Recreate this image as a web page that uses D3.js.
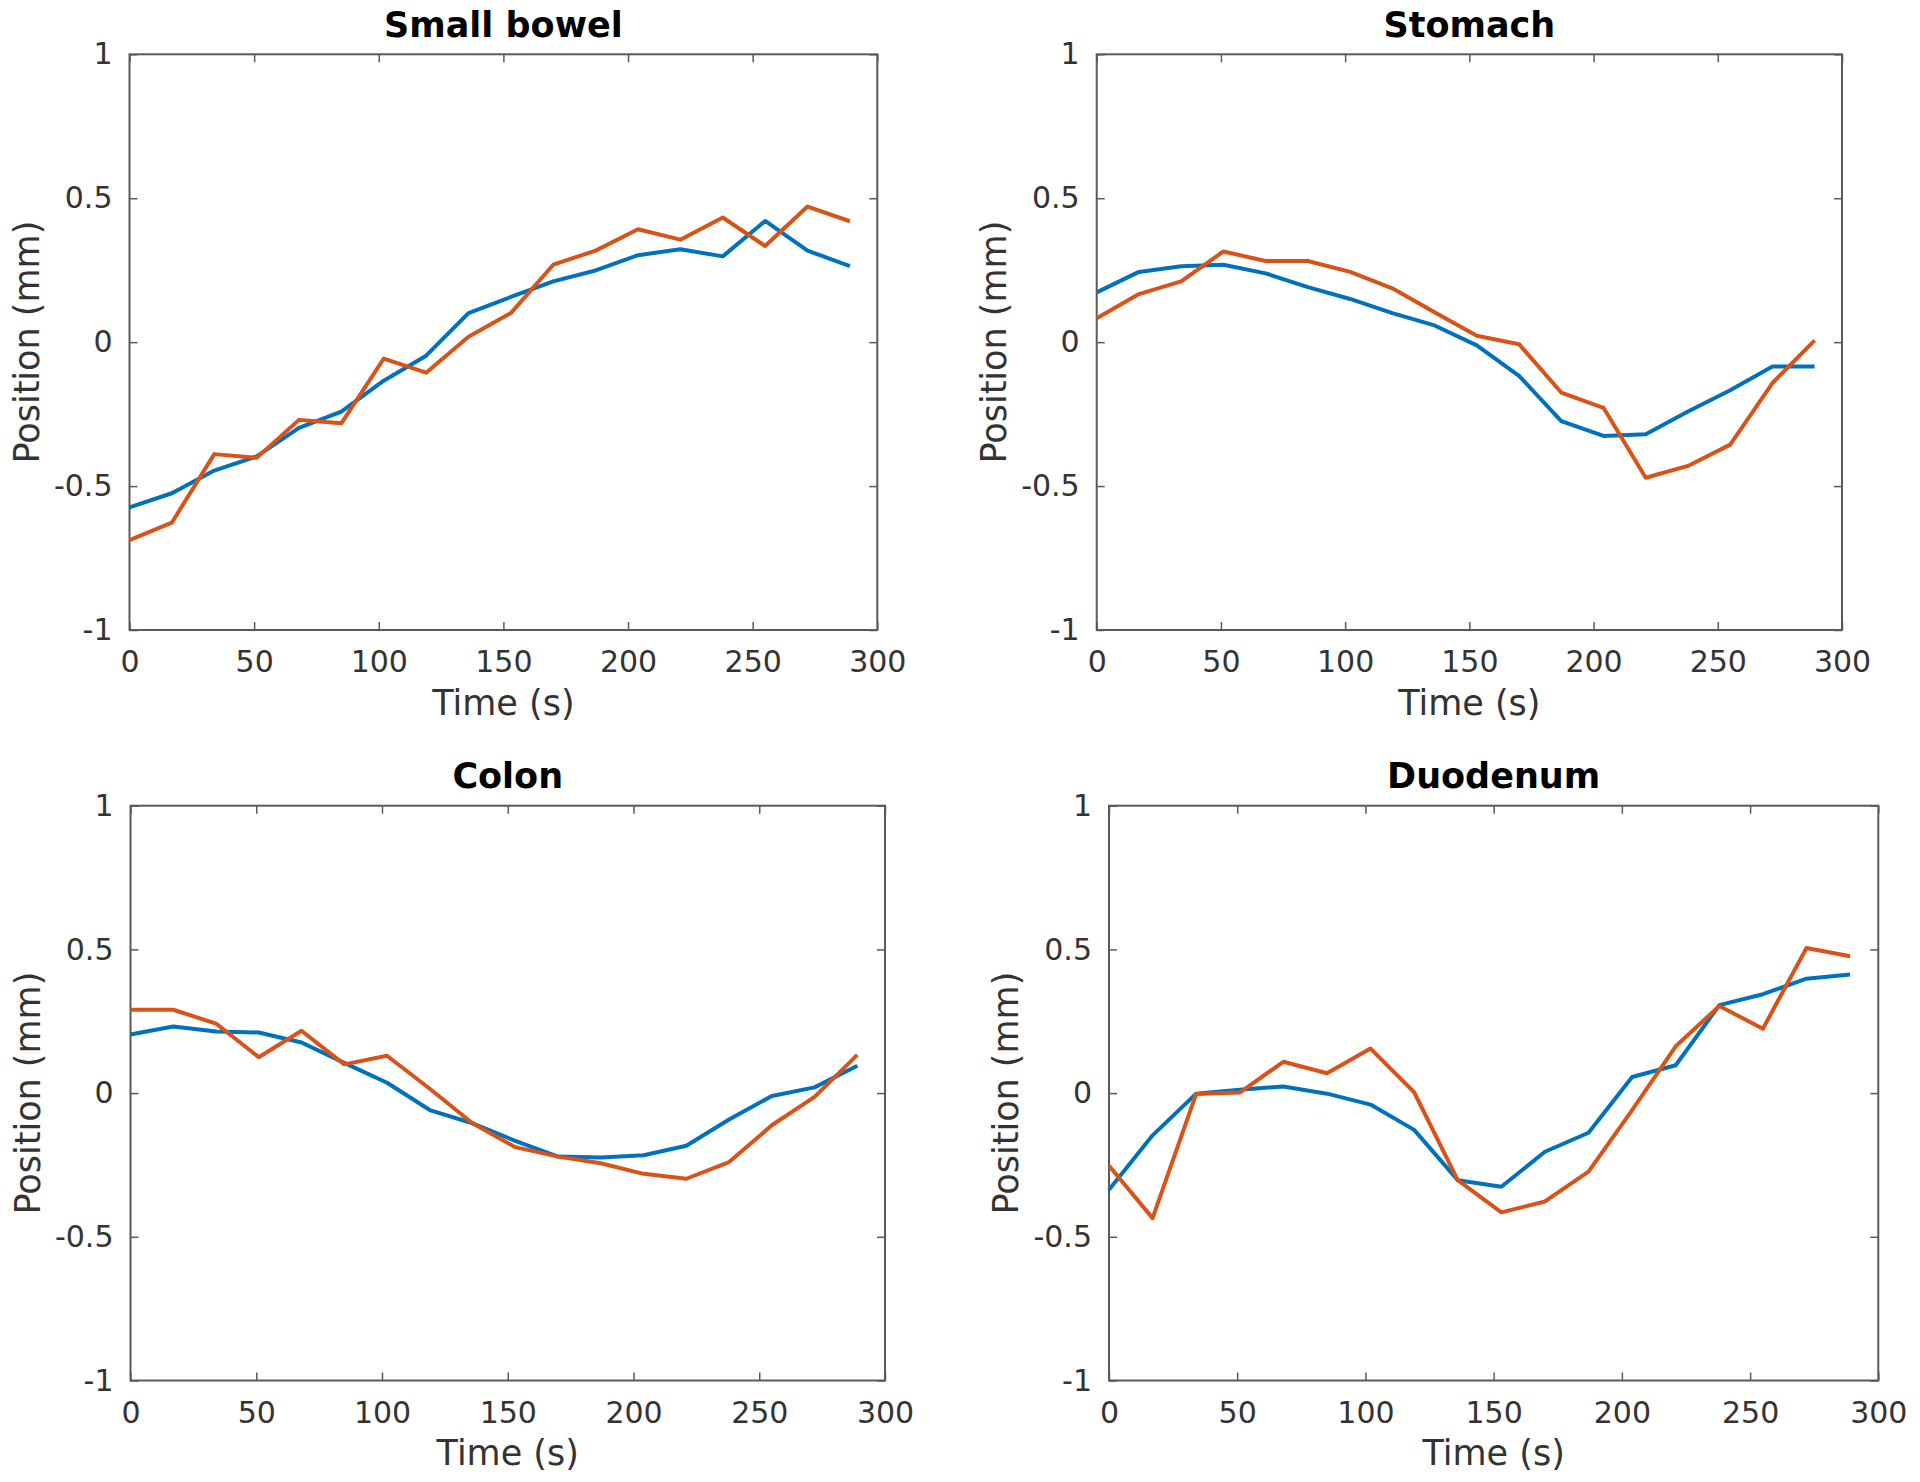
<!DOCTYPE html>
<html>
<head>
<meta charset="utf-8">
<script src="https://cdn.jsdelivr.net/npm/d3@7"></script>
<style>
  html, body { margin: 0; padding: 0; background: #fff; }
  svg { display: block; }
</style>
</head>
<body>
<svg id="chart" width="1920" height="1482"></svg>
<script>
// ---------------- DATA ----------------
const time = [0, 17, 34, 51, 68, 85, 102, 119, 136, 153, 170, 187, 204, 221, 238, 255, 272, 289];

const panelTitles = ["Small bowel", "Stomach", "Colon", "Duodenum"];

const smallBowelBlue   = [-0.574, -0.525, -0.446, -0.397, -0.298, -0.241, -0.134, -0.047, 0.101, 0.157, 0.211, 0.249, 0.302, 0.323, 0.298, 0.421, 0.318, 0.264];
const smallBowelOrange = [-0.688, -0.627, -0.389, -0.402, -0.270, -0.282, -0.057, -0.106, 0.019, 0.101, 0.269, 0.318, 0.392, 0.356, 0.433, 0.334, 0.471, 0.420];

const stomachBlue   = [0.173, 0.244, 0.264, 0.269, 0.239, 0.191, 0.150, 0.101, 0.058, -0.011, -0.117, -0.274, -0.326, -0.320, -0.241, -0.167, -0.085, -0.085];
const stomachOrange = [0.083, 0.167, 0.211, 0.315, 0.282, 0.282, 0.244, 0.187, 0.104, 0.022, -0.007, -0.175, -0.228, -0.471, -0.430, -0.356, -0.142, 0.006];

const colonBlue   = [0.204, 0.232, 0.214, 0.211, 0.176, 0.105, 0.036, -0.059, -0.105, -0.166, -0.221, -0.224, -0.216, -0.183, -0.092, -0.010, 0.020, 0.095];
const colonOrange = [0.290, 0.290, 0.242, 0.125, 0.217, 0.100, 0.130, 0.015, -0.105, -0.188, -0.221, -0.244, -0.281, -0.298, -0.240, -0.112, -0.013, 0.133];

const duodenumBlue   = [-0.336, -0.147, -0.002, 0.012, 0.023, -0.002, -0.040, -0.128, -0.303, -0.326, -0.204, -0.138, 0.056, 0.097, 0.306, 0.344, 0.398, 0.413];
const duodenumOrange = [-0.253, -0.435, -0.003, 0.002, 0.109, 0.069, 0.155, 0.003, -0.303, -0.415, -0.377, -0.273, -0.059, 0.163, 0.303, 0.224, 0.505, 0.476];

const xTicks = [0, 50, 100, 150, 200, 250, 300];
const yTicks = [-1, -0.5, 0, 0.5, 1];
const yTickLabels = ["-1", "-0.5", "0", "0.5", "1"];
const xLabel = "Time (s)";
const yLabel = "Position (mm)";

const seriesColors = ["#0072BD", "#D95319"];

// ---------------- LAYOUT ----------------
const panels = [
  { title: panelTitles[0], series: [smallBowelBlue, smallBowelOrange], left: 129.5, right: 877.3, top: 54.3, bottom: 630 },
  { title: panelTitles[1], series: [stomachBlue, stomachOrange],       left: 1096.7, right: 1842, top: 54.3, bottom: 630 },
  { title: panelTitles[2], series: [colonBlue, colonOrange],           left: 130.5, right: 885, top: 805.7, bottom: 1380.5 },
  { title: panelTitles[3], series: [duodenumBlue, duodenumOrange],     left: 1109, right: 1878.3, top: 805.7, bottom: 1380.5 }
];

const FONT = "'DejaVu Sans', 'Liberation Sans', sans-serif";
const tickFont = 30, labelFont = 35, titleFont = 35;
const axisColor = "#5a5a5a";
const textColor = "#333333";
const tickLen = 8;

const svg = d3.select("#chart");

panels.forEach(p => {
  const w = p.right - p.left, h = p.bottom - p.top;
  const g = svg.append("g").attr("transform", `translate(${p.left},${p.top})`);

  const x = d3.scaleLinear().domain([0, 300]).range([0, w]);
  const y = d3.scaleLinear().domain([-1, 1]).range([h, 0]);

  const gx = g.append("g").attr("transform", `translate(0,${h})`)
    .call(d3.axisBottom(x).tickValues(xTicks).tickFormat(d3.format("d"))
      .tickSizeInner(-tickLen).tickSizeOuter(0).tickPadding(21));
  const gxt = g.append("g")
    .call(d3.axisTop(x).tickValues(xTicks).tickFormat("")
      .tickSizeInner(-tickLen).tickSizeOuter(0));
  const gy = g.append("g")
    .call(d3.axisLeft(y).tickValues(yTicks).tickFormat((d, i) => yTickLabels[i])
      .tickSizeInner(-tickLen).tickSizeOuter(0).tickPadding(17));
  const gyr = g.append("g").attr("transform", `translate(${w},0)`)
    .call(d3.axisRight(y).tickValues(yTicks).tickFormat("")
      .tickSizeInner(-tickLen).tickSizeOuter(0));

  [gx, gxt, gy, gyr].forEach(a => {
    a.select(".domain").remove();
    a.selectAll(".tick line").attr("stroke", axisColor).attr("stroke-width", 1.5);
    a.selectAll(".tick text")
      .attr("fill", textColor)
      .style("font-family", FONT)
      .style("font-size", tickFont + "px");
  });

  g.append("rect")
    .attr("x", 0).attr("y", 0).attr("width", w).attr("height", h)
    .attr("fill", "none").attr("stroke", axisColor).attr("stroke-width", 2);

  const line = d3.line().x((d, i) => x(time[i])).y(d => y(d));
  p.series.forEach((s, k) => {
    g.append("path")
      .datum(s)
      .attr("fill", "none")
      .attr("stroke", seriesColors[k])
      .attr("stroke-width", 4)
      .attr("stroke-linejoin", "round")
      .attr("d", line);
  });

  g.append("text")
    .attr("x", w / 2).attr("y", -17.5)
    .attr("text-anchor", "middle")
    .attr("fill", "#000")
    .style("font-family", FONT)
    .style("font-weight", "bold")
    .style("font-size", titleFont + "px")
    .text(p.title);

  g.append("text")
    .attr("x", w / 2).attr("y", h + 85)
    .attr("text-anchor", "middle")
    .attr("fill", textColor)
    .style("font-family", FONT)
    .style("font-size", labelFont + "px")
    .text(xLabel);

  g.append("text")
    .attr("transform", `translate(${-91},${h / 2}) rotate(-90)`)
    .attr("text-anchor", "middle")
    .attr("fill", textColor)
    .style("font-family", FONT)
    .style("font-size", labelFont + "px")
    .text(yLabel);
});
</script>
</body>
</html>
